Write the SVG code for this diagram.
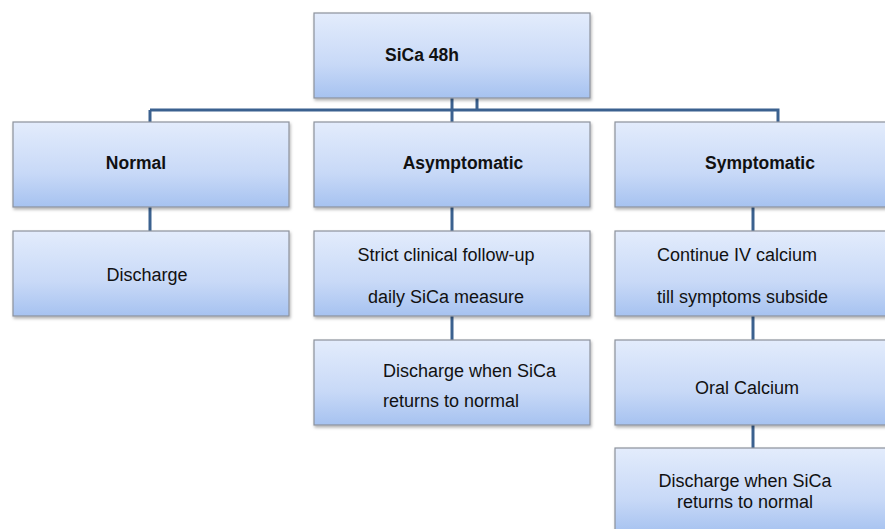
<svg xmlns="http://www.w3.org/2000/svg" width="885" height="529" viewBox="0 0 885 529">
<defs>
<linearGradient id="g" x1="0" y1="0" x2="0" y2="1">
<stop offset="0" stop-color="#e3ecfc"/>
<stop offset="0.6" stop-color="#c8d9f7"/>
<stop offset="1" stop-color="#a6c2f0"/>
</linearGradient>
<filter id="sh" x="-5%" y="-5%" width="110%" height="120%">
<feDropShadow dx="1" dy="2" stdDeviation="1.5" flood-color="#000" flood-opacity="0.3"/>
</filter>
</defs>
<style>
.box{fill:url(#g);stroke:#8c929c;stroke-width:1.2;filter:url(#sh)}
.c{fill:none;stroke:#3b618f;stroke-width:3}
text{font-family:"Liberation Sans",Arial,sans-serif;font-size:18px;fill:#111}
.b{font-weight:bold;font-size:17.5px}
.m{text-anchor:middle}
</style>
<rect width="885" height="529" fill="#fff"/>
<g id="connectors">
<path class="c" d="M150 110 H778 V122"/>
<path class="c" d="M150 110 V122"/>
<path class="c" d="M452 98 V122"/>
<path class="c" d="M477 98 V110"/>
<path class="c" d="M150 207 V231"/>
<path class="c" d="M452 207 V231"/>
<path class="c" d="M452 316 V340"/>
<path class="c" d="M753 207 V231"/>
<path class="c" d="M753 316 V340"/>
<path class="c" d="M753 425 V448"/>
</g>
<g id="top"><rect class="box" x="314" y="13" width="276" height="85"/><text class="b" x="385" y="61">SiCa 48h</text></g>
<g id="normal"><rect class="box" x="13" y="122" width="276" height="85"/><text class="b m" x="136" y="169">Normal</text></g>
<g id="asym"><rect class="box" x="314" y="122" width="276" height="85"/><text class="b m" x="463" y="169">Asymptomatic</text></g>
<g id="sym"><rect class="box" x="615" y="122" width="276" height="85"/><text class="b m" x="760" y="169">Symptomatic</text></g>
<g id="discharge1"><rect class="box" x="13" y="231" width="276" height="85"/><text class="m" x="147" y="281">Discharge</text></g>
<g id="follow"><rect class="box" x="314" y="231" width="276" height="85"/><text class="m" x="446" y="261">Strict clinical follow-up</text><text class="m" x="446" y="303">daily SiCa measure</text></g>
<g id="discharge2"><rect class="box" x="314" y="340" width="276" height="85"/><text x="383" y="377">Discharge when SiCa</text><text x="383" y="407">returns to normal</text></g>
<g id="iv"><rect class="box" x="615" y="231" width="276" height="85"/><text x="657" y="261">Continue IV calcium</text><text x="657" y="303">till symptoms subside</text></g>
<g id="oral"><rect class="box" x="615" y="340" width="276" height="85"/><text class="m" x="747" y="394">Oral Calcium</text></g>
<g id="discharge3"><rect class="box" x="615" y="448" width="276" height="85"/><text class="m" x="745" y="487">Discharge when SiCa</text><text class="m" x="745" y="508">returns to normal</text></g>
</svg>
